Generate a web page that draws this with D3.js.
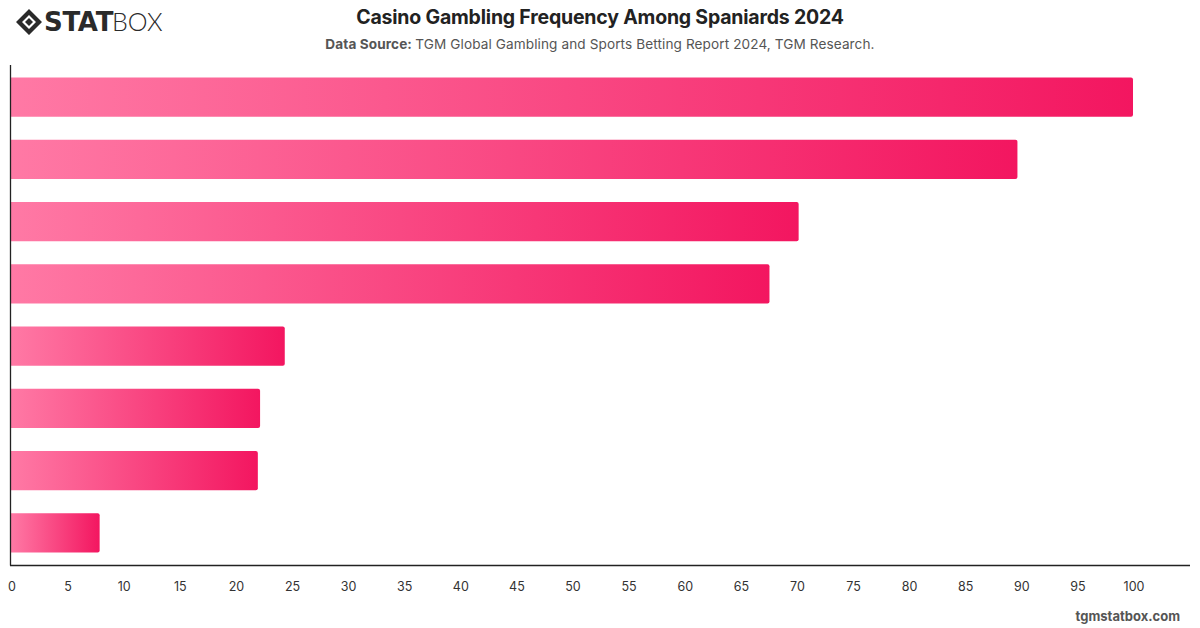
<!DOCTYPE html>
<html><head><meta charset="utf-8">
<script src="https://cdn.jsdelivr.net/npm/d3@7"></script>
<style>body{margin:0;background:#fff;}svg{display:block;font-family:Inter,"Noto Sans",sans-serif;}</style>
</head><body>
<svg id="c" width="1200" height="628"></svg>
<script>
const categories = ["Never","Less than once a year","Once a year","A few times a year","Once a month","A few times a month","Once a week","Several times a week"];
const values = [100, 89.7, 70.2, 67.6, 24.4, 22.2, 22.0, 7.9];
const xTicks = d3.range(0, 101, 5);

const svg = d3.select("#c");
const m = {l: 11, r: 1190, t: 65, b: 565};
const x = d3.scaleLinear().domain([0, 100]).range([m.l, 1133]);
const y = d3.scaleBand().domain(categories).range([m.t, m.b]).paddingInner(0.37).paddingOuter(0.2);

const defs = svg.append("defs");
const g = defs.append("linearGradient").attr("id","grad").attr("x1","0%").attr("x2","100%").attr("y1","0%").attr("y2","0%");
g.append("stop").attr("offset","0%").attr("stop-color","#ff79a5");
g.append("stop").attr("offset","100%").attr("stop-color","#f31660");

svg.selectAll("path.bar").data(values).enter().append("path")
  .attr("class","bar")
  .attr("fill","url(#grad)")
  .attr("d",(d,i)=>{
    const x0 = x(0), x1 = x(d), y0 = y(categories[i]), h = y.bandwidth(), r = 2;
    return `M${x0},${y0}H${x1-r}Q${x1},${y0} ${x1},${y0+r}V${y0+h-r}Q${x1},${y0+h} ${x1-r},${y0+h}H${x0}Z`;
  });

// axes lines
svg.append("line").attr("x1",10.5).attr("x2",10.5).attr("y1",m.t).attr("y2",m.b+0.5).attr("stroke","#222").attr("stroke-width",1.3);
svg.append("line").attr("x1",10).attr("x2",m.r).attr("y1",m.b+0.5).attr("y2",m.b+0.5).attr("stroke","#222").attr("stroke-width",1.3);

const xa = svg.append("g").attr("transform",`translate(0.5,${m.b})`)
  .call(d3.axisBottom(x).tickValues(xTicks).tickSize(0).tickPadding(17).tickFormat(d3.format("d")));
xa.select(".domain").remove();
xa.selectAll("text").attr("font-size",12.5).attr("fill","#333").attr("font-family","Inter,'Noto Sans',sans-serif");

// title
svg.append("text").attr("x",600).attr("y",24).attr("text-anchor","middle")
  .attr("font-size",19.5).attr("font-weight",700).attr("fill","#222").attr("letter-spacing",-0.2)
  .text("Casino Gambling Frequency Among Spaniards 2024");
const st = svg.append("text").attr("x",600).attr("y",49).attr("text-anchor","middle")
  .attr("font-size",13.6).attr("fill","#555").attr("letter-spacing",0.1);
st.append("tspan").attr("font-weight",700).text("Data Source: ");
st.append("tspan").text("TGM Global Gambling and Sports Betting Report 2024, TGM Research.");

// footer
svg.append("text").attr("x",1180).attr("y",621).attr("text-anchor","end")
  .attr("font-size",13).attr("font-weight",700).attr("fill","#555").text("tgmstatbox.com");

// logo
const lg = svg.append("g").attr("transform","translate(16,9)");
lg.append("path").attr("d","M13,0 L26,13 L13,26 L0,13 Z M13,6 L20,13 L13,20 L6,13 Z").attr("fill","#2a2a2a").attr("fill-rule","evenodd");
lg.append("path").attr("d","M13,9 L17,13 L13,17 L9,13 Z").attr("fill","#2a2a2a");
lg.append("text").attr("x",28).attr("y",22).attr("font-size",26).attr("font-weight",900).attr("fill","#2a2a2a")
  .attr("font-family","'DejaVu Sans',sans-serif").attr("letter-spacing",-0.3).text("STAT");
lg.append("text").attr("x",96).attr("y",22).attr("font-size",25).attr("font-weight",300).attr("fill","#2a2a2a")
  .attr("font-family","Lato,sans-serif").text("BOX");
</script>
</body></html>
